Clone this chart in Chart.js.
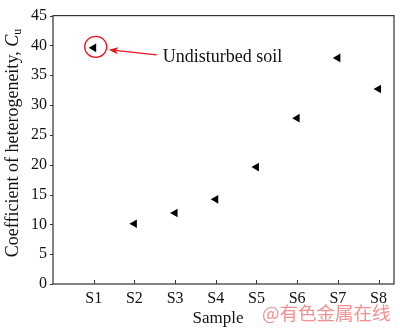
<!DOCTYPE html>
<html><head><meta charset="utf-8">
<script src="https://cdn.jsdelivr.net/npm/chart.js@4/dist/chart.umd.min.js"></script>
<style>html,body{margin:0;padding:0;background:#fff;}#wrap{width:400px;height:329px;}</style>
</head><body><div id="wrap"><canvas id="c" width="400" height="329"></canvas></div>
<script>
const categories = ["S1","S2","S3","S4","S5","S6","S7","S8"];
const cuValues = [39.6, 10.1, 11.9, 14.2, 19.6, 27.8, 37.9, 32.7];
const yTicks = [0,5,10,15,20,25,30,35,40,45];
const annotationText = "Undisturbed soil";
const watermark = "@有色金属在线";

const serif = "'Liberation Serif', 'Times New Roman', serif";

const framePlugin = {
  id: 'frame',
  afterDraw(chart) {
    const {ctx, chartArea: a, scales: {x, y}} = chart;
    ctx.save();
    ctx.strokeStyle = '#333';
    ctx.lineWidth = 1.2;
    ctx.strokeRect(a.left, a.top, a.right - a.left, a.bottom - a.top);
    ctx.lineWidth = 1;
    // y ticks (outward)
    yTicks.forEach(v => {
      const py = Math.round(y.getPixelForValue(v)) + 0.5;
      ctx.beginPath(); ctx.moveTo(a.left - 3, py); ctx.lineTo(a.left, py); ctx.stroke();
    });
    // x ticks (inward)
    categories.forEach((c, i) => {
      const px = Math.round(x.getPixelForValue(i + 1)) + 0.5;
      ctx.beginPath(); ctx.moveTo(px, a.bottom); ctx.lineTo(px, a.bottom - 4); ctx.stroke();
    });
    // axis titles
    ctx.fillStyle = '#111';
    ctx.font = "17px " + serif;
    ctx.textAlign = 'center'; ctx.textBaseline = 'middle';
    ctx.fillText('Sample', 218, 319);
    // y title rotated
    ctx.save();
    ctx.translate(12, 143);
    ctx.rotate(-Math.PI / 2);
    const main = 'Coefficient of heterogeneity, ';
    ctx.font = "18px " + serif;
    const w1 = ctx.measureText(main).width;
    ctx.font = "italic 18px " + serif;
    const w2 = ctx.measureText('C').width;
    ctx.font = "12px " + serif;
    const w3 = ctx.measureText('u').width;
    let sx = -(w1 + w2 + w3) / 2;
    ctx.textAlign = 'left'; ctx.textBaseline = 'alphabetic';
    ctx.font = "18px " + serif;
    ctx.fillText(main, sx, 6);
    ctx.font = "italic 18px " + serif;
    ctx.fillText('C', sx + w1, 6);
    ctx.font = "12px " + serif;
    ctx.fillText('u', sx + w1 + w2, 9);
    ctx.restore();
    // annotation: ellipse around S1 point, arrow and text
    const p0x = x.getPixelForValue(1), p0y = y.getPixelForValue(cuValues[0]);
    ctx.strokeStyle = '#e8141e';
    ctx.lineWidth = 1.3;
    ctx.beginPath();
    ctx.ellipse(p0x + 2, p0y - 1, 11, 10.5, 0, 0, Math.PI * 2);
    ctx.stroke();
    const ax0 = p0x + 63, ay0 = p0y + 7, ax1 = p0x + 15, ay1 = p0y + 2;
    ctx.beginPath(); ctx.moveTo(ax0, ay0); ctx.lineTo(ax1 + 6, ay1 + 0.6); ctx.stroke();
    const ang = Math.atan2(ay1 - ay0, ax1 - ax0);
    ctx.fillStyle = '#e8141e';
    ctx.beginPath();
    ctx.moveTo(ax1, ay1);
    ctx.lineTo(ax1 - 10 * Math.cos(ang - 0.35), ay1 - 10 * Math.sin(ang - 0.35));
    ctx.lineTo(ax1 - 7 * Math.cos(ang), ay1 - 7 * Math.sin(ang));
    ctx.lineTo(ax1 - 10 * Math.cos(ang + 0.35), ay1 - 10 * Math.sin(ang + 0.35));
    ctx.closePath(); ctx.fill();
    ctx.fillStyle = '#111';
    ctx.font = "18px " + serif;
    ctx.textAlign = 'left'; ctx.textBaseline = 'middle';
    ctx.fillText(annotationText, p0x + 69, p0y + 9);
    // watermark
    ctx.fillStyle = 'rgba(238,125,125,0.85)';
    ctx.font = "18.5px 'Noto Sans CJK SC', sans-serif";
    ctx.textAlign = 'left'; ctx.textBaseline = 'middle';
    ctx.fillText(watermark, 262, 313);
    ctx.restore();
  }
};

new Chart(document.getElementById('c'), {
  type: 'scatter',
  data: {
    datasets: [{
      label: 'Cu',
      data: cuValues.map((v, i) => ({x: i + 1, y: v})),
      pointStyle: 'triangle',
      rotation: -90,
      radius: 5,
      backgroundColor: '#000',
      borderColor: '#000',
      borderWidth: 0
    }]
  },
  options: {
    responsive: false,
    animation: false,
    layout: {padding: {left: 0, right: 6, top: 6, bottom: 0}},
    plugins: {legend: {display: false}, tooltip: {enabled: false}},
    scales: {
      x: {
        type: 'linear', min: 0, max: 8.38,
        afterBuildTicks(s) { s.ticks = categories.map((c, i) => ({value: i + 1})); },
        afterFit(s) { s.height = 45; },
        grid: {display: false, drawTicks: false},
        border: {display: false},
        ticks: {
          padding: 5, color: '#111', font: {family: serif, size: 16},
          maxRotation: 0, autoSkip: false,
          callback: v => categories[v - 1] || ''
        }
      },
      y: {
        min: 0, max: 45,
        afterBuildTicks(s) { s.ticks = yTicks.map(v => ({value: v})); },
        afterFit(s) { s.width = 53; },
        grid: {display: false, drawTicks: false},
        border: {display: false},
        ticks: {padding: 6, color: '#111', font: {family: serif, size: 16}}
      }
    }
  },
  plugins: [framePlugin]
});
</script>
</body></html>
